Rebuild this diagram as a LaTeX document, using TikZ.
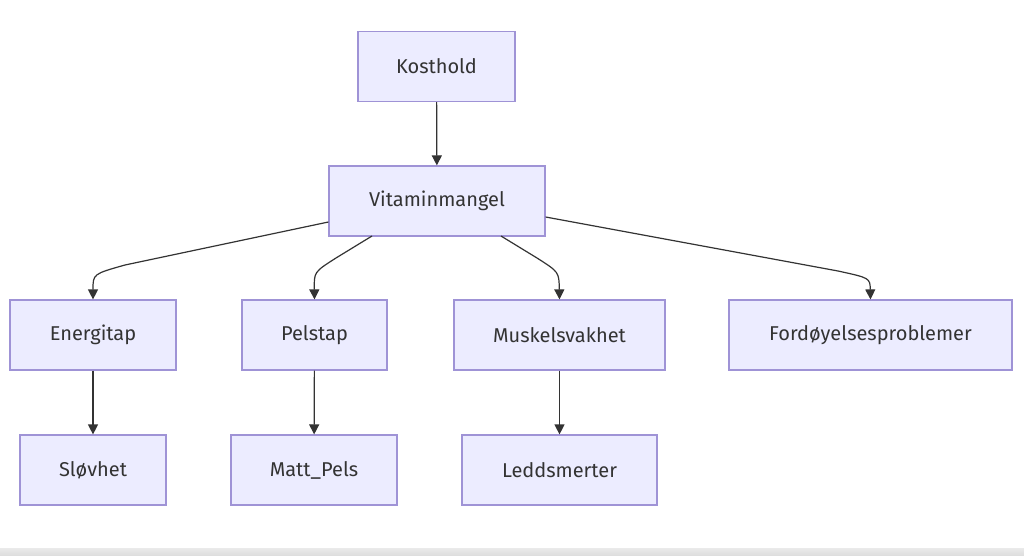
\documentclass[tikz,border=0pt]{standalone}
\usepackage{fontspec}
\setmainfont{Fira Sans}
\usetikzlibrary{arrows.meta}
\definecolor{nodefill}{HTML}{ECECFF}
\definecolor{nodeline}{HTML}{9F93D6}
\definecolor{edgecol}{HTML}{333333}
\definecolor{txt}{HTML}{333333}
\definecolor{barcol}{HTML}{DCDCDC}
\tikzset{
  box/.style={draw=nodeline, fill=nodefill, line width=1.2pt, inner sep=0pt,
    minimum height=70pt, text=txt, font=\fontsize{20}{24}\selectfont},
  edge/.style={draw=edgecol, line width=1.2pt, -{Triangle[length=10pt,width=10pt]}},
}
\begin{document}
\begin{tikzpicture}[x=1pt,y=-1pt]
\useasboundingbox (0,0) rectangle (1024,556);
\fill[white] (0,0) rectangle (1024,556);
\shade[top color=barcol!60, bottom color=barcol] (0,548) rectangle (1024,556);
\node[box, minimum width=157pt] (k) at (436.5,66.5) {Kosthold};
\node[box, minimum width=216pt] (v) at (437,201) {Vitaminmangel};
\node[box, minimum width=166pt] (e) at (93,335) {Energitap};
\node[box, minimum width=145pt] (p) at (314.5,335) {Pelstap};
\node[box, minimum width=211pt] (m) at (559.5,335) {Muskelsvakhet};
\node[box, minimum width=283pt] (f) at (870.5,335) {Fordøyelsesproblemer};
\node[box, minimum width=146pt] (s) at (93,470) {Sløvhet};
\node[box, minimum width=166pt] (mp) at (314,470) {Matt\_Pels};
\node[box, minimum width=195pt] (l) at (559.5,470) {Leddsmerter};
\draw[edge] (k) -- (v);
\draw[edge] (v.west |- 0,222) -- (125,265) .. controls (93,274) .. (e.north);
\draw[edge] (372,236) -- (336,258) .. controls (314,272) .. (p.north);
\draw[edge] (501,236) -- (537,258) .. controls (559,272) .. (m.north);
\draw[edge] (v.east |- 0,217) -- (838,271) .. controls (870,278) .. (f.north);
\draw[edge] (e) -- (s);
\draw[edge] (p) -- (mp);
\draw[edge] (m) -- (l);
\end{tikzpicture}
\end{document}
